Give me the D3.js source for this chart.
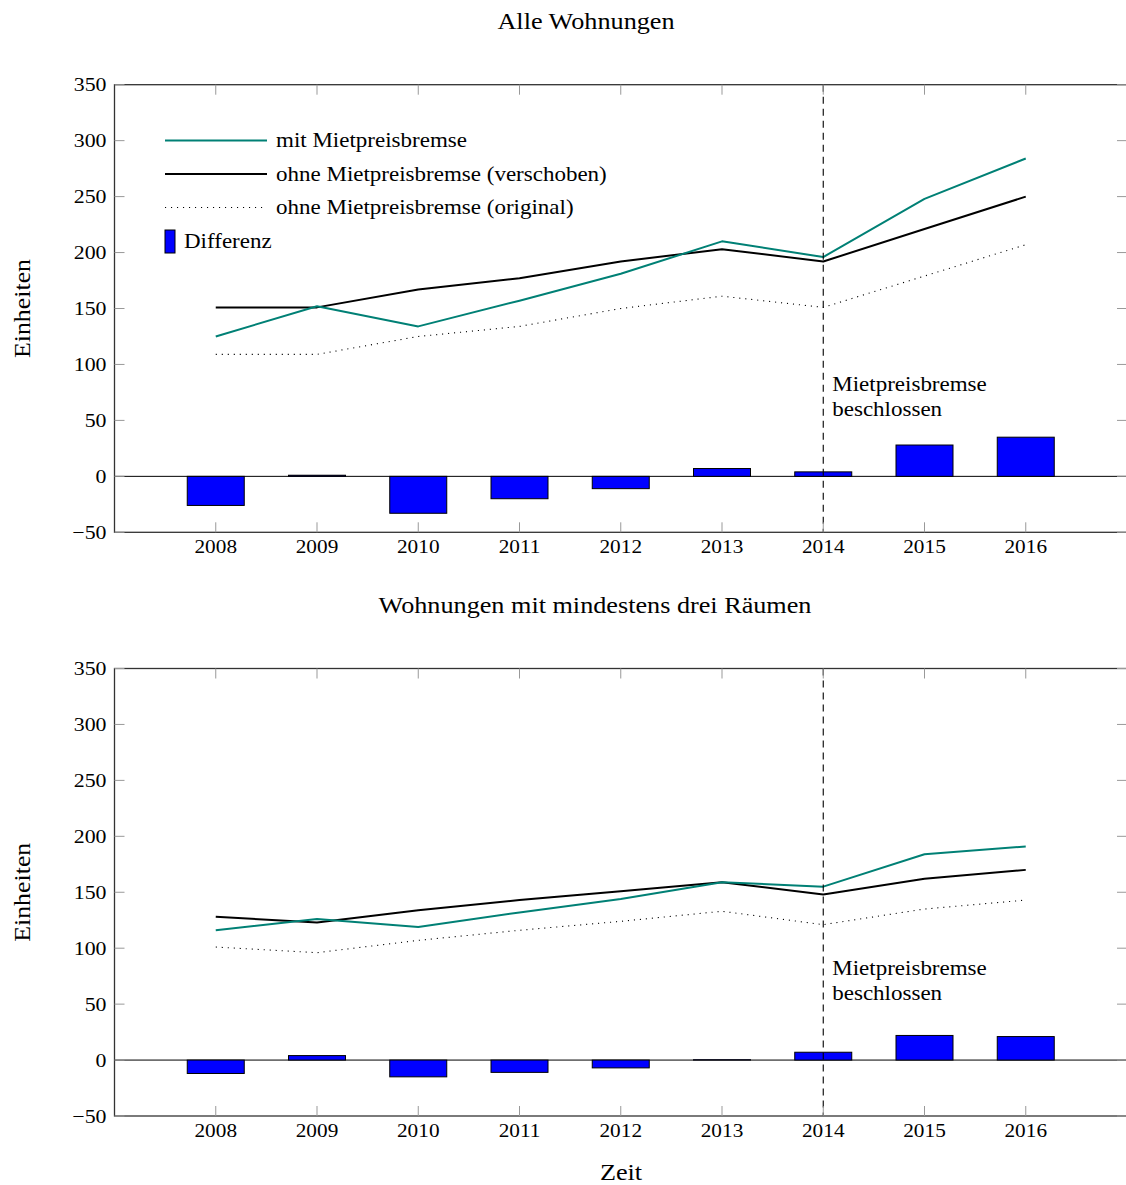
<!DOCTYPE html>
<html>
<head>
<meta charset="utf-8">
<script src="https://cdn.jsdelivr.net/npm/d3@7"></script>
<style>
  body { margin: 0; background: #fff; }
  svg { display: block; font-family: "Liberation Serif", "DejaVu Serif", serif; }
</style>
</head>
<body>
<svg id="chart" width="1126" height="1185"></svg>
<script>
// values
const years = [2008, 2009, 2010, 2011, 2012, 2013, 2014, 2015, 2016];
const yTicks = [-50, 0, 50, 100, 150, 200, 250, 300, 350];

// Alle Wohnungen
const alleMit = [125, 152, 134, 157, 181, 210, 196, 248, 284];
const alleOhne = [151, 151, 167, 177, 192, 203, 192, 221, 250];
const alleOriginal = [109, 109, 125, 134, 150, 161, 151, 179, 207];
const alleDiff = [-26, 1, -33, -20, -11, 7, 4, 28, 35];

// Wohnungen mit mindestens drei Räumen
const dreiMit = [116, 126, 119, 132, 144, 159, 155, 184, 191];
const dreiOhne = [128, 123, 134, 143, 151, 159, 148, 162, 170];
const dreiOriginal = [101, 96, 107, 116, 124, 133, 121, 135, 143];
const dreiDiff = [-12, 4, -15, -11, -7, 0.3, 7, 22, 21];

const legendLabels = ['mit Mietpreisbremse', 'ohne Mietpreisbremse (verschoben)', 'ohne Mietpreisbremse (original)', 'Differenz'];

const TEAL = '#008075';
const STRETCH = 1.15; // the reference typeface runs wider than Liberation Serif
const svg = d3.select('#chart');
const left = 114.5, right = 1127;

const x = d3.scaleLinear().domain([2007, 2017]).range([left, right]);

// text helper: place at (tx,ty), optional rotation, widened glyphs
function label(parent, tx, ty, str, size, anchor, rot) {
  return parent.append('text')
    .attr('transform', `translate(${tx},${ty})${rot ? ` rotate(${rot})` : ''} scale(${STRETCH},1)`)
    .attr('text-anchor', anchor || 'start')
    .attr('font-size', size)
    .text(str);
}

function drawPanel(cfg) {
  const y = d3.scaleLinear().domain([-50, 350]).range([cfg.bottom, cfg.top]);
  const g = svg.append('g');

  label(g, cfg.titleX, cfg.top - 56, cfg.title, 22.8, 'middle');
  label(g, 30, (cfg.top + cfg.bottom) / 2, 'Einheiten', 22.5, 'middle', -90);

  // zero line
  g.append('line')
    .attr('x1', left).attr('x2', right)
    .attr('y1', y(0)).attr('y2', y(0))
    .attr('stroke', '#000').attr('stroke-width', 1);

  // bars
  const bw = 57;
  g.append('g').selectAll('rect')
    .data(cfg.diff)
    .join('rect')
      .attr('x', (d, i) => x(years[i]) - bw / 2)
      .attr('width', bw)
      .attr('y', d => y(Math.max(0, d)))
      .attr('height', d => Math.abs(y(d) - y(0)))
      .attr('fill', '#0000ff')
      .attr('stroke', '#000')
      .attr('stroke-width', 1);

  // lines
  const line = d3.line().x((d, i) => x(years[i])).y(d => y(d));
  g.append('path').datum(cfg.original)
    .attr('d', line).attr('fill', 'none')
    .attr('stroke', '#000').attr('stroke-width', 1.1)
    .attr('stroke-dasharray', '1.1,4.9');
  g.append('path').datum(cfg.ohne)
    .attr('d', line).attr('fill', 'none')
    .attr('stroke', '#000').attr('stroke-width', 2)
    .attr('stroke-linejoin', 'round');
  g.append('path').datum(cfg.mit)
    .attr('d', line).attr('fill', 'none')
    .attr('stroke', TEAL).attr('stroke-width', 2)
    .attr('stroke-linejoin', 'round');

  // vertical marker at 2014
  g.append('line')
    .attr('x1', x(2014)).attr('x2', x(2014))
    .attr('y1', cfg.top).attr('y2', cfg.bottom)
    .attr('stroke', '#000').attr('stroke-width', 1.1)
    .attr('stroke-dasharray', '7,5');
  label(g, x(2014) + 9, y(100) + 27, 'Mietpreisbremse', 20);
  label(g, x(2014) + 9, y(100) + 52, 'beschlossen', 20);

  // frame
  g.append('rect')
    .attr('x', left).attr('y', cfg.top)
    .attr('width', right - left).attr('height', cfg.bottom - cfg.top)
    .attr('fill', 'none').attr('stroke', '#333').attr('stroke-width', 1.3);

  // x ticks (inside, top and bottom)
  const xt = g.append('g');
  years.forEach(yr => {
    xt.append('line').attr('x1', x(yr)).attr('x2', x(yr))
      .attr('y1', cfg.bottom).attr('y2', cfg.bottom - 10)
      .attr('stroke', '#999').attr('stroke-width', 1);
    xt.append('line').attr('x1', x(yr)).attr('x2', x(yr))
      .attr('y1', cfg.top).attr('y2', cfg.top + 10)
      .attr('stroke', '#999').attr('stroke-width', 1);
    label(xt, x(yr), cfg.bottom + 21, yr, 18.5, 'middle');
  });

  // y ticks (inside, left and right)
  const yt = g.append('g');
  yTicks.forEach(v => {
    yt.append('line').attr('x1', left).attr('x2', left + 10)
      .attr('y1', y(v)).attr('y2', y(v))
      .attr('stroke', '#999').attr('stroke-width', 1);
    yt.append('line').attr('x1', right - 10).attr('x2', right)
      .attr('y1', y(v)).attr('y2', y(v))
      .attr('stroke', '#999').attr('stroke-width', 1);
    label(yt, left - 8, y(v) + 6.5, v < 0 ? '\u2212' + Math.abs(v) : v, 19, 'end');
  });

  if (cfg.legend) {
    const lg = g.append('g');
    const rows = [140.5, 174, 207.5];
    const styles = [
      { stroke: TEAL, w: 2, dash: null },
      { stroke: '#000', w: 2, dash: null },
      { stroke: '#000', w: 1.1, dash: '1.1,4.9' }
    ];
    rows.forEach((ry, i) => {
      lg.append('line').attr('x1', 165).attr('x2', 267)
        .attr('y1', ry).attr('y2', ry)
        .attr('stroke', styles[i].stroke).attr('stroke-width', styles[i].w)
        .attr('stroke-dasharray', styles[i].dash);
      label(lg, 276, ry + 6.5, legendLabels[i], 20);
    });
    lg.append('rect').attr('x', 165).attr('y', 230)
      .attr('width', 10).attr('height', 23)
      .attr('fill', '#0000ff').attr('stroke', '#000').attr('stroke-width', 1);
    label(lg, 184, 248, legendLabels[3], 20);
  }
}

drawPanel({
  top: 84.7, bottom: 532.3, titleX: 586,
  title: 'Alle Wohnungen',
  mit: alleMit, ohne: alleOhne, original: alleOriginal, diff: alleDiff,
  legend: true
});

drawPanel({
  top: 668.5, bottom: 1116, titleX: 595,
  title: 'Wohnungen mit mindestens drei Räumen',
  mit: dreiMit, ohne: dreiOhne, original: dreiOriginal, diff: dreiDiff,
  legend: false
});

label(svg, 621, 1180, 'Zeit', 22.8, 'middle');
</script>
</body>
</html>
